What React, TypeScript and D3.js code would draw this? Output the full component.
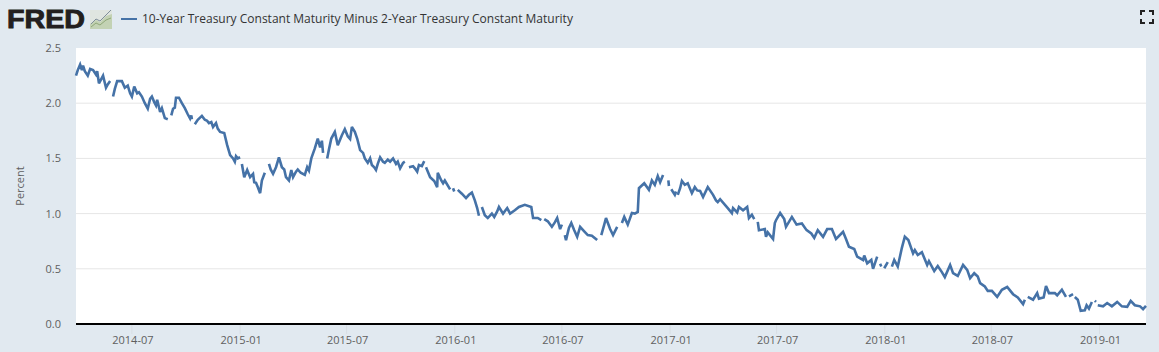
import React from "react";
import * as d3 from "d3";

// The series: [days since 2014-03-28, percent]; null marks a missing reading (a gap in the line)
const spreadReadings: [number, number | null][] = [
[0,2.25],[3,2.30],[7,2.35],[10,2.30],[12,2.34],[15,2.29],[20,2.25],[24,2.31],[29,2.30],[34,2.26],[36,2.29],[39,2.18],[42,2.21],[46,2.25],[51,2.14],[54,2.17],[58,2.20],[61,null],
[63,2.06],[66,2.13],[70,2.20],[78,2.20],[83,2.14],[88,2.16],[92,2.09],[95,2.06],[99,2.15],[104,2.09],[107,2.10],[112,2.06],[117,2.00],[122,1.95],[126,2.04],[129,2.06],[133,2.01],[136,1.98],[138,2.03],[143,1.92],[146,1.955],[151,1.865],[156,1.855],[160,null],
[162,1.89],[165,1.95],[168,1.96],[170,2.05],[175,2.05],[180,2.00],[185,1.955],[190,1.90],[194,1.86],[196,1.89],[197,1.855],[199,null],
[202,1.81],[207,1.85],[214,1.885],[219,1.85],[223,1.84],[226,1.82],[230,1.83],[233,1.785],[238,1.82],[241,1.77],[245,1.74],[252,1.73],[257,1.62],[262,1.53],[267,1.50],[270,1.47],[272,1.52],[275,1.50],[279,1.51],[281,null],
[282,1.45],[286,1.33],[291,1.395],[296,1.33],[301,1.36],[303,1.285],[306,1.28],[309,1.24],[313,1.185],[316,1.30],[321,1.37],[325,null],
[328,1.45],[331,1.40],[335,1.36],[340,1.42],[345,1.51],[350,1.42],[354,1.40],[357,1.33],[362,1.30],[366,1.395],[369,1.33],[374,1.38],[377,1.40],[382,1.37],[389,1.35],[393,1.42],[396,1.39],[400,1.50],[406,1.59],[411,1.68],[415,1.60],[418,1.66],[420,1.55],[423,null],
[427,1.50],[430,1.58],[434,1.68],[440,1.74],[445,1.62],[452,1.71],[457,1.765],[462,1.70],[466,1.675],[469,1.785],[474,1.74],[478,1.68],[483,1.575],[488,1.55],[491,1.50],[496,1.46],[500,1.50],[503,1.44],[507,1.42],[510,1.395],[513,1.45],[517,1.51],[522,1.47],[525,1.46],[530,1.49],[534,1.47],[539,1.50],[544,1.45],[547,1.47],[551,1.41],[556,1.46],[559,1.47],[563,null],
[566,1.42],[573,1.43],[576,1.41],[580,1.38],[583,1.44],[588,1.43],[592,1.475],[593,null],
[595,1.42],[602,1.33],[609,1.295],[614,1.24],[615,1.37],[621,1.30],[624,1.275],[627,1.30],[636,1.22],[638,null],
[641,1.23],[643,1.20],[646,null],
[649,1.215],[656,1.18],[663,1.14],[668,1.17],[673,1.19],[678,1.12],[682,1.05],[685,0.98],[687,null],
[690,1.06],[695,0.985],[700,0.96],[707,1.00],[711,0.97],[716,1.02],[719,1.06],[726,1.00],[733,1.05],[738,1.00],[746,1.03],[753,1.06],[763,1.08],[774,1.06],[777,0.96],[785,0.96],[791,0.94],[794,null],
[796,0.95],[802,0.93],[809,0.88],[814,0.92],[818,0.96],[823,0.86],[826,0.90],[830,null],
[831,0.805],[833,0.76],[838,0.87],[842,0.915],[847,0.85],[852,0.79],[857,0.88],[864,0.84],[870,0.805],[877,0.80],[886,0.76],[889,null],
[893,0.805],[898,0.90],[901,0.96],[908,0.86],[913,0.805],[920,0.88],[923,null],
[928,0.915],[932,0.97],[938,0.90],[945,1.005],[950,1.00],[955,1.015],[957,1.23],[966,1.275],[974,1.215],[979,1.30],[984,1.26],[989,1.34],[993,1.285],[998,1.35],[1001,null],
[1007,1.30],[1008,1.25],[1010,null],
[1012,1.22],[1018,1.17],[1020,1.20],[1022,null],
[1023,1.17],[1027,1.23],[1030,1.295],[1035,1.26],[1040,1.275],[1047,1.185],[1052,1.24],[1056,1.21],[1061,1.205],[1066,1.15],[1074,1.24],[1083,1.17],[1088,1.12],[1091,1.105],[1095,1.13],[1108,1.05],[1115,1.005],[1117,1.05],[1124,1.01],[1127,1.06],[1134,1.03],[1141,1.06],[1144,0.96],[1149,0.99],[1153,0.95],[1156,null],
[1159,0.925],[1161,0.85],[1171,0.86],[1173,0.79],[1176,0.83],[1185,0.77],[1188,0.915],[1190,0.94],[1197,1.005],[1204,0.95],[1207,0.88],[1217,0.97],[1225,0.90],[1234,0.91],[1242,0.85],[1250,0.82],[1255,0.78],[1261,0.85],[1270,0.79],[1277,0.86],[1285,0.86],[1292,0.77],[1304,0.835],[1309,0.77],[1314,0.70],[1323,0.68],[1328,0.61],[1338,0.58],[1340,0.62],[1345,0.55],[1352,0.58],[1355,0.50],[1362,0.61],[1365,null],
[1367,0.545],[1369,0.52],[1372,null],
[1374,0.505],[1380,0.56],[1383,null],
[1387,0.52],[1391,0.58],[1397,0.52],[1404,0.69],[1409,0.79],[1415,0.76],[1423,0.64],[1426,0.67],[1431,0.625],[1438,0.65],[1447,0.535],[1450,0.57],[1459,0.48],[1465,0.525],[1472,0.47],[1477,0.425],[1486,0.535],[1491,0.46],[1499,0.435],[1508,0.535],[1515,0.49],[1520,0.415],[1527,0.46],[1533,0.43],[1537,0.37],[1545,0.34],[1550,0.30],[1557,0.30],[1566,0.245],[1574,0.31],[1583,0.335],[1593,0.27],[1601,0.24],[1610,0.18],[1613,0.22],[1615,null],
[1618,0.245],[1627,0.22],[1634,0.28],[1637,0.23],[1645,0.24],[1649,0.345],[1654,0.28],[1664,0.28],[1668,0.26],[1676,0.31],[1683,0.245],[1685,null],
[1688,0.25],[1695,0.27],[1696,null],
[1698,0.245],[1703,0.22],[1708,0.12],[1715,0.125],[1718,0.17],[1722,0.14],[1727,0.20],[1729,null],
[1732,0.21],[1734,0.20],[1735,null],
[1737,0.17],[1746,0.16],[1753,0.19],[1761,0.16],[1770,0.20],[1778,0.16],[1787,0.155],[1793,0.21],[1800,0.17],[1809,0.16],[1814,0.135],[1819,0.165],
];

const seriesName = "10-Year Treasury Constant Maturity Minus 2-Year Treasury Constant Maturity";
const yAxisLabel = "Percent";
const yTicks = [0, 0.5, 1, 1.5, 2, 2.5];
const xTicks = ["2014-07", "2015-01", "2015-07", "2016-01", "2016-07", "2017-01", "2017-07", "2018-01", "2018-07", "2019-01"];
const firstDay = "2014-03-28";
const lastDay = "2019-03-21";

const W = 1159, H = 352;
const left = 76, right = 1146, top = 48, bottom = 324;
const parse = (s: string) => new Date(s.length === 7 ? s + "-01T00:00:00Z" : s + "T00:00:00Z");
const start = parse(firstDay);
const toDate = (d: number) => d3.utcDay.offset(start, d);

export default function App() {
  const x = d3.scaleUtc().domain([start, parse(lastDay)]).range([left, right]);
  const y = d3.scaleLinear().domain([0, 2.5]).range([bottom, top]);
  const line = d3.line<[number, number | null]>()
    .defined((d) => d[1] !== null)
    .x((d) => x(toDate(d[0])))
    .y((d) => y(d[1] as number));
  const font = "'Open Sans', sans-serif";
  return (
    <svg width={W} height={H} style={{ position: "absolute", left: 0, top: 0 }} fontFamily={font}>
      <rect width={W} height={H} fill="#e1e9f0" />
      <rect x={left} y={top} width={right - left} height={bottom - top} fill="#fff" />
      {yTicks.filter((t) => t > 0 && t < 2.5).map((t) => (
        <line key={t} x1={left} x2={right} y1={y(t)} y2={y(t)} stroke="#e6e6e6" strokeWidth={1} />
      ))}
      {xTicks.map((t) => (
        <g key={t}>
          <line x1={x(parse(t))} x2={x(parse(t))} y1={bottom} y2={bottom + 10} stroke="#d8dee4" strokeWidth={1} />
          <text x={x(parse(t)) + 1} y={344} fontSize={11} fill="#5f5f5f" textAnchor="middle">{t}</text>
        </g>
      ))}
      {yTicks.map((t) => (
        <text key={t} x={61} y={y(t) + 4} fontSize={11} fill="#5f5f5f" textAnchor="end">{t.toFixed(1)}</text>
      ))}
      <text transform="translate(24,186) rotate(-90)" fontSize={11} fill="#5f5f5f" textAnchor="middle">{yAxisLabel}</text>
      <path d={line(spreadReadings) ?? ""} fill="none" stroke="#4572a7" strokeWidth={2.6} strokeLinejoin="miter" strokeMiterlimit={3} strokeLinecap="butt" />
      <line x1={left} x2={right} y1={bottom} y2={bottom} stroke="#000" strokeWidth={2} />

      <text x={7} y={28} fontFamily="'Liberation Sans', sans-serif" fontWeight={700} fontSize={26} fill="#231f20" stroke="#231f20" strokeWidth={0.9} textLength={78} lengthAdjust="spacingAndGlyphs">FRED</text>
      <g>
        <rect x={90} y={10} width={22} height={19} fill="#dfe5e0" />
        <path d="M90,29 L90,24 L96,20 L100,22 L106,16 L112,14 L112,29 Z" fill="#c3d2b4" />
        <path d="M91,24 L96,19 L100,21 L106,15 L111,10" fill="none" stroke="#7f8e99" strokeWidth={1} />
        <path d="M91,27 L96,23 L100,25 L106,20 L111,18" fill="none" stroke="#8fa878" strokeWidth={1} />
      </g>
      <line x1={121} x2={137} y1={19} y2={19} stroke="#4572a7" strokeWidth={2} />
      <text x={142} y={23} fontSize={12} fill="#333">{seriesName}</text>

      <path d="M1141,15 V11 H1145 M1149,11 H1153 V15 M1153,19 V23 H1149 M1145,23 H1141 V19" fill="none" stroke="#222" strokeWidth={2} />
    </svg>
  );
}
